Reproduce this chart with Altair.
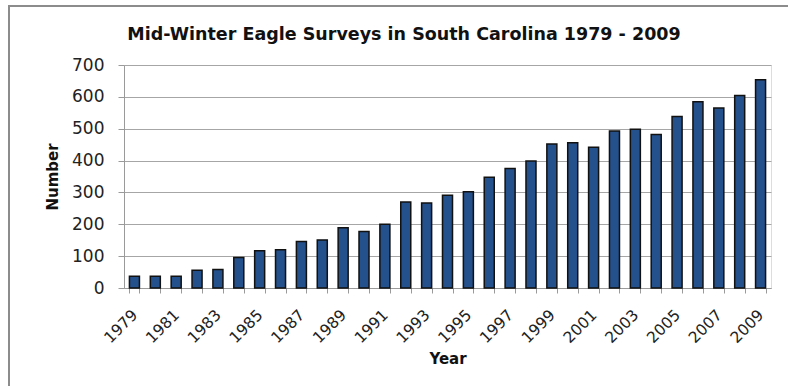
import altair as alt
import pandas as pd

title_text = ["Mid-Winter Eagle Surveys in South Carolina 1979 - 2009"]
years = list(range(1979, 2010))
counts = [37, 37, 37, 56, 58, 96, 117, 120, 146, 151, 189, 177, 200, 270, 267,
          291, 302, 348, 375, 399, 452, 456, 442, 493, 498, 482, 538, 585, 565, 604, 654]
y_ticks = [0, 100, 200, 300, 400, 500, 600, 700]

df = pd.DataFrame({"Year": years, "Number": counts})
tdf = pd.DataFrame({"t": title_text})

FONT = "DejaVu Sans"

bars = alt.Chart(df).mark_bar(
    color="#24508C", stroke="#111111", strokeWidth=1.5
).encode(
    x=alt.X("Year:O",
            scale=alt.Scale(paddingInner=0.52, paddingOuter=0.26),
            axis=alt.Axis(
                title="Year", labelAngle=-45, labelAlign="right", labelBaseline="middle",
                labelExpr="datum.value % 2 == 1 ? datum.label : ''",
                tickBand="extent", tickSize=5, labelPadding=19,
                labelFont=FONT, labelFontSize=15.5, labelColor="#222222",
                titleFont=FONT, titleFontSize=15, titleFontWeight="bold",
                titleColor="#111111", titlePadding=6,
                domainColor="#9a9a9a", tickColor="#9a9a9a", grid=False,
                labelOverlap=False)),
    y=alt.Y("Number:Q",
            scale=alt.Scale(domain=[0, 700], nice=False),
            axis=alt.Axis(
                title="Number", values=y_ticks, tickSize=6, labelPadding=14,
                labelFont=FONT, labelFontSize=17, labelColor="#222222",
                titleFont=FONT, titleFontSize=15, titleFontWeight="bold",
                titleColor="#111111", titleX=-72, titleY=111.5,
                titleAngle=-90, titleBaseline="middle", titleAlign="center",
                domainColor="#9a9a9a", tickColor="#9a9a9a",
                grid=True, gridColor="#a6a6a6", gridWidth=1)),
)

title = alt.Chart(tdf).mark_text(
    font=FONT, fontSize=17.5, fontWeight="bold", color="#111111",
    align="center", baseline="alphabetic"
).encode(text="t:N", x=alt.value(280), y=alt.value(-25))

frame_left = alt.Chart(df).mark_rule(color="#8c8c8c", strokeWidth=2).encode(
    x=alt.value(-115), y=alt.value(-59), y2=alt.value(321))
frame_top = alt.Chart(df).mark_rule(color="#8c8c8c", strokeWidth=2).encode(
    x=alt.value(-116), x2=alt.value(664), y=alt.value(-59))

chart = alt.layer(bars, title, frame_left, frame_top).properties(
    width=647, height=223,
    autosize=alt.AutoSizeParams(type="none"),
    padding={"left": 124, "top": 65, "right": 17, "bottom": 98},
).configure_view(stroke=None).configure(background="white")

chart.save("out.html", embed_options={"renderer": "svg", "actions": False})
